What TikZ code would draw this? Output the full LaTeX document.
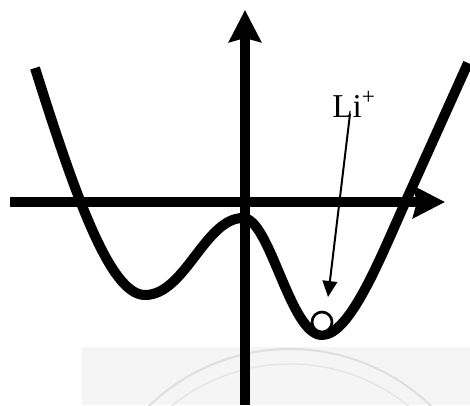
\documentclass[tikz,border=0pt]{standalone}
\usepackage{fontspec}
\setmainfont{Liberation Serif}
\usetikzlibrary{arrows.meta}
\begin{document}
\begin{tikzpicture}[x=0.75pt,y=-0.75pt,
  axis/.style={line width=7.5pt,-{Stealth[length=24pt,width=24pt,inset=3pt]}},
  well/.style={line width=7.5pt,line join=round},
  pointer/.style={line width=1.5pt,-{Triangle[length=12pt,width=11pt]}},
  ion/.style={circle,draw,line width=2pt,fill=white,minimum size=15pt,inner sep=0pt},
  lab/.style={font=\fontsize{25pt}{25pt}\selectfont,inner sep=0pt,anchor=base west}]
\useasboundingbox (0,0) rectangle (470,405);
% watermark
\begin{scope}
\clip (82,347) rectangle (470,405);
\fill[gray!8] (82,347) rectangle (470,405);
\draw[gray!25,line width=1.5pt] (290,552) circle (203);
\draw[gray!20,line width=1pt] (290,552) circle (188);
\end{scope}
% axes
\coordinate (yb) at (245,405);
\coordinate (yt) at (245,10);
\coordinate (xl) at (10,202);
\coordinate (xr) at (445,202);
\draw[axis] (yb) -- (yt);
\draw[axis] (xl) -- (xr);
% potential curve
\coordinate (p0) at (35,68);
\coordinate (m1) at (145,295);
\coordinate (mx) at (243,218);
\coordinate (m2) at (322,335);
\coordinate (c2) at (405,203);
\coordinate (p1) at (468,63);
\draw[well] (p0) .. controls (75,195) and (110,295) .. (m1)
  .. controls (185,295) and (205,218) .. (mx)
  .. controls (270,218) and (290,335) .. (m2)
  .. controls (350,335) and (380,258.5) .. (c2) -- (p1);
% ion
\node[ion] (li) at (322,322) {};
% label and pointer
\node[lab] (txt) at (332,117) {Li\textsuperscript{+}};
\coordinate (s) at (350,114);
\coordinate (t) at (328,297);
\draw[pointer] (s) -- (t);
\end{tikzpicture}
\end{document}
